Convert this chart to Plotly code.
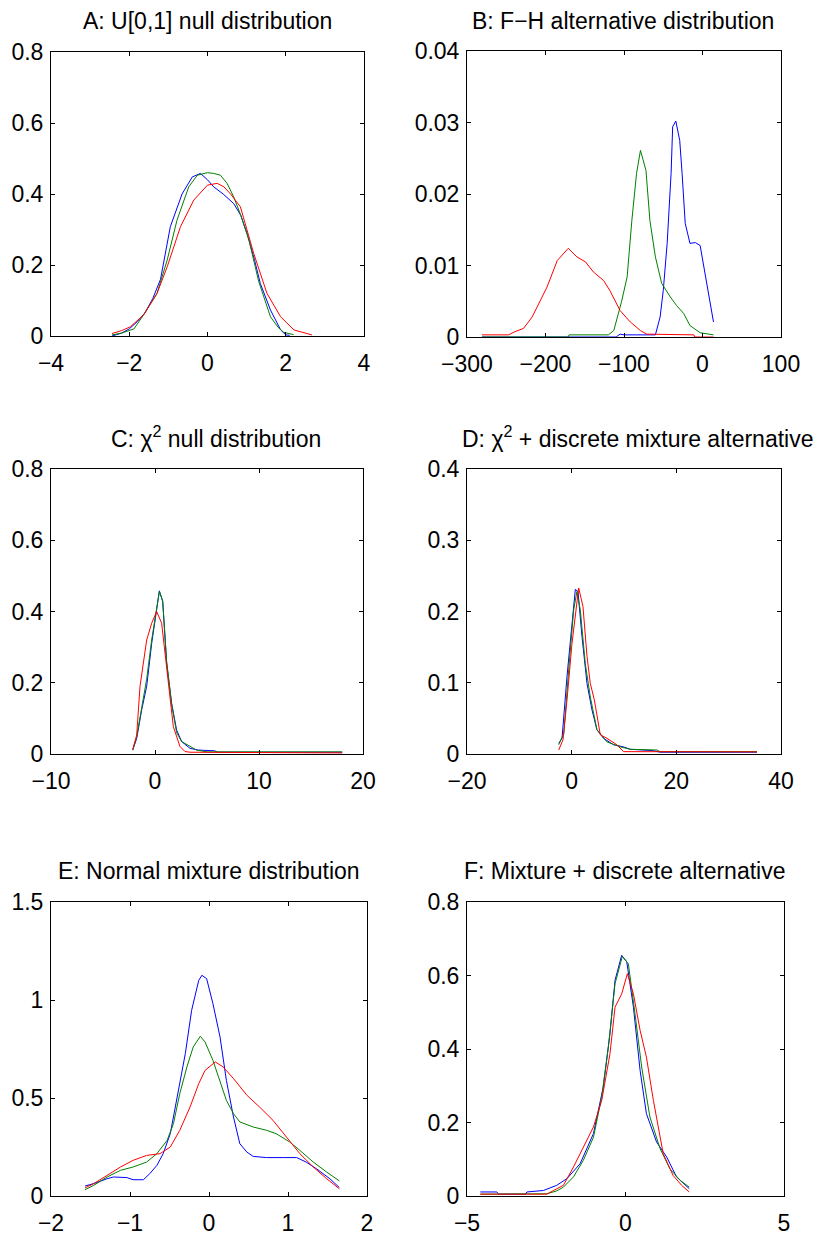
import plotly.graph_objects as go

# ---------------- data ----------------
# Panel A: U[0,1] null distribution
A_blue_x = [-2.44, -2.2, -2.0, -1.8, -1.6, -1.4, -1.2, -0.95, -0.65, -0.39, -0.18, 0.0, 0.16, 0.4, 0.67, 0.85, 1.01, 1.2, 1.35, 1.61, 1.87, 2.0, 2.1]
A_blue_y = [0.0, 0.008, 0.02, 0.04, 0.065, 0.105, 0.16, 0.308, 0.40, 0.448, 0.458, 0.44, 0.42, 0.40, 0.373, 0.34, 0.289, 0.215, 0.148, 0.073, 0.017, 0.003, 0.002]
A_green_x = [-2.44, -2.2, -1.88, -1.63, -1.29, -1.03, -0.78, -0.48, -0.26, 0.0, 0.16, 0.33, 0.5, 0.67, 0.85, 1.06, 1.31, 1.61, 1.8, 1.95, 2.2]
A_green_y = [0.003, 0.008, 0.02, 0.06, 0.12, 0.214, 0.326, 0.42, 0.453, 0.46, 0.458, 0.453, 0.43, 0.392, 0.34, 0.27, 0.153, 0.054, 0.025, 0.01, 0.004]
A_red_x = [-2.44, -2.2, -1.97, -1.63, -1.29, -1.03, -0.69, -0.35, 0.0, 0.25, 0.42, 0.59, 0.84, 1.0, 1.18, 1.52, 1.87, 2.21, 2.55, 2.67]
A_red_y = [0.007, 0.015, 0.026, 0.06, 0.12, 0.195, 0.308, 0.383, 0.425, 0.43, 0.42, 0.40, 0.364, 0.30, 0.233, 0.12, 0.054, 0.017, 0.0075, 0.003]

# Panel B: F-H alternative distribution
B_blue_x = [-281, -200, -110, -105, -100, -60, -54, -50, -45, -40, -38, -34, -29, -26, -22, -16, -9, -3, 1, 8, 14]
B_blue_y = [0.0, 0.0, 0.0, 0.0004, 0.0003, 0.0003, 0.0028, 0.0065, 0.0131, 0.0229, 0.0294, 0.0302, 0.0275, 0.0229, 0.0159, 0.0131, 0.0132, 0.0128, 0.0103, 0.0056, 0.0021]
B_green_x = [-281, -171, -170, -120, -113, -103, -96, -90, -84, -79, -72, -67, -60, -52, -41, -33, -24, -16, -3, 14]
B_green_y = [0.0, 0.0, 0.0003, 0.0003, 0.0009, 0.005, 0.0084, 0.0163, 0.0229, 0.0261, 0.0233, 0.0163, 0.0112, 0.0075, 0.0056, 0.0044, 0.0033, 0.0016, 0.0006, 0.0003]
B_red_x = [-281, -247, -240, -228, -217, -211, -198, -185, -171, -160, -149, -139, -126, -118, -105, -92, -79, -71, -11, -10, 14]
B_red_y = [0.0003, 0.0003, 0.0007, 0.0012, 0.0028, 0.0042, 0.007, 0.0107, 0.0124, 0.0112, 0.0105, 0.0091, 0.0079, 0.0065, 0.0037, 0.0021, 0.0009, 0.0004, 0.0003, 0.0, 0.0]

# Panel C: chi^2 null distribution
C_blue_x = [-2.14, -1.76, -1.28, -0.8, -0.32, 0.16, 0.42, 0.74, 1.12, 1.6, 2.08, 2.56, 3.36, 4.16, 5.75, 6.0, 18.0]
C_blue_y = [0.011, 0.044, 0.124, 0.19, 0.31, 0.405, 0.458, 0.428, 0.255, 0.142, 0.067, 0.035, 0.016, 0.011, 0.009, 0.005, 0.005]
C_green_x = [-2.14, -1.76, -1.28, -0.8, -0.32, 0.16, 0.42, 0.74, 1.12, 1.6, 2.08, 2.56, 3.0, 4.0, 5.0, 18.0]
C_green_y = [0.011, 0.048, 0.13, 0.21, 0.32, 0.41, 0.456, 0.43, 0.26, 0.14, 0.06, 0.035, 0.028, 0.011, 0.006, 0.006]
C_red_x = [-2.14, -1.76, -1.44, -0.8, -0.32, 0.16, 0.64, 1.12, 1.76, 2.4, 2.88, 3.36, 9.6, 9.7, 18.0]
C_red_y = [0.013, 0.053, 0.19, 0.32, 0.367, 0.40, 0.367, 0.245, 0.077, 0.021, 0.007, 0.005, 0.005, 0.003, 0.003]

# Panel D: chi^2 + discrete mixture alternative
D_blue_x = [-2.48, -1.84, -0.89, 0.06, 0.7, 1.21, 1.97, 2.93, 3.88, 4.83, 6.1, 8.0, 9.9, 11.2, 15.6, 16.9, 35.4]
D_blue_y = [0.015, 0.022, 0.109, 0.184, 0.231, 0.228, 0.165, 0.099, 0.062, 0.034, 0.022, 0.013, 0.010, 0.0066, 0.0047, 0.0025, 0.0025]
D_green_x = [-2.48, -1.5, -0.57, 0.38, 1.0, 1.65, 2.6, 3.56, 4.83, 6.74, 9.3, 11.2, 16.3, 16.9, 35.4]
D_green_y = [0.013, 0.029, 0.118, 0.202, 0.228, 0.202, 0.127, 0.08, 0.034, 0.017, 0.010, 0.0066, 0.0056, 0.0033, 0.0033]
D_red_x = [-2.48, -1.65, -0.89, 0.06, 1.34, 2.16, 2.93, 3.56, 4.33, 5.47, 6.74, 8.65, 9.9, 35.4]
D_red_y = [0.0056, 0.02, 0.076, 0.155, 0.233, 0.207, 0.137, 0.099, 0.076, 0.027, 0.022, 0.013, 0.0033, 0.003]

# Panel E: Normal mixture distribution
E_blue_x = [-1.57, -1.46, -1.29, -1.21, -1.04, -0.96, -0.83, -0.75, -0.66, -0.58, -0.49, -0.41, -0.3, -0.22, -0.13, -0.09, -0.03, 0.05, 0.14, 0.22, 0.31, 0.39, 0.48, 0.56, 0.73, 0.94, 1.11, 1.23, 1.36, 1.53, 1.65]
E_blue_y = [0.051, 0.063, 0.088, 0.097, 0.094, 0.083, 0.083, 0.114, 0.156, 0.216, 0.318, 0.488, 0.726, 0.947, 1.10, 1.126, 1.109, 0.981, 0.811, 0.59, 0.403, 0.267, 0.224, 0.202, 0.196, 0.196, 0.196, 0.173, 0.139, 0.088, 0.043]
E_green_x = [-1.57, -1.46, -1.29, -1.12, -0.96, -0.79, -0.66, -0.53, -0.45, -0.37, -0.28, -0.2, -0.11, -0.05, 0.05, 0.14, 0.22, 0.31, 0.39, 0.56, 0.73, 0.85, 1.02, 1.15, 1.32, 1.49, 1.65]
E_green_y = [0.032, 0.054, 0.097, 0.131, 0.148, 0.173, 0.216, 0.284, 0.369, 0.522, 0.658, 0.76, 0.815, 0.786, 0.692, 0.59, 0.488, 0.42, 0.378, 0.352, 0.335, 0.318, 0.276, 0.233, 0.173, 0.122, 0.077]
E_red_x = [-1.57, -1.46, -1.29, -1.12, -0.96, -0.79, -0.62, -0.49, -0.37, -0.24, -0.13, -0.05, 0.08, 0.18, 0.31, 0.48, 0.64, 0.81, 0.98, 1.15, 1.32, 1.49, 1.65]
E_red_y = [0.041, 0.063, 0.105, 0.148, 0.182, 0.207, 0.216, 0.25, 0.335, 0.454, 0.573, 0.641, 0.684, 0.658, 0.599, 0.514, 0.454, 0.386, 0.301, 0.216, 0.148, 0.088, 0.037]

# Panel F: Mixture + discrete alternative
F_blue_x = [-4.58, -4.06, -4.0, -3.16, -3.11, -2.59, -2.17, -1.85, -1.43, -1.01, -0.7, -0.49, -0.33, -0.12, 0.04, 0.25, 0.46, 0.66, 0.98, 1.3, 1.61, 2.01]
F_blue_y = [0.011, 0.011, 0.005, 0.005, 0.011, 0.015, 0.029, 0.047, 0.088, 0.17, 0.297, 0.442, 0.587, 0.655, 0.637, 0.514, 0.342, 0.224, 0.147, 0.106, 0.052, 0.02]
F_green_x = [-4.58, -2.48, -2.17, -1.96, -1.64, -1.33, -1.01, -0.75, -0.54, -0.33, -0.1, 0.09, 0.3, 0.51, 0.77, 1.09, 1.4, 1.72, 2.01]
F_green_y = [0.005, 0.006, 0.014, 0.024, 0.052, 0.097, 0.16, 0.27, 0.406, 0.578, 0.652, 0.632, 0.496, 0.351, 0.215, 0.129, 0.074, 0.043, 0.024]
F_red_x = [-4.58, -2.48, -2.27, -1.96, -1.64, -1.33, -1.01, -0.75, -0.49, -0.33, -0.12, 0.06, 0.25, 0.46, 0.66, 0.88, 1.19, 1.5, 1.77, 2.01]
F_red_y = [0.005, 0.005, 0.015, 0.029, 0.079, 0.133, 0.188, 0.26, 0.387, 0.514, 0.55, 0.605, 0.55, 0.451, 0.378, 0.26, 0.115, 0.056, 0.029, 0.011]

titles = [
    "A: U[0,1] null distribution",
    "B: F\u2212H alternative distribution",
    "C: \u03c7<sup>2</sup> null distribution",
    "D: \u03c7<sup>2</sup> + discrete mixture alternative",
    "E: Normal mixture distribution",
    "F: Mixture + discrete alternative",
]
x_ranges = [(-4, 4), (-300, 100), (-10, 20), (-20, 40), (-2, 2), (-5, 5)]
x_dticks = [2, 100, 10, 20, 1, 5]
y_ranges = [(0, 0.8), (0, 0.04), (0, 0.8), (0, 0.4), (0, 1.5), (0, 0.8)]
y_dticks = [0.2, 0.01, 0.2, 0.1, 0.5, 0.2]

panels = [
    (A_blue_x, A_blue_y, A_green_x, A_green_y, A_red_x, A_red_y),
    (B_blue_x, B_blue_y, B_green_x, B_green_y, B_red_x, B_red_y),
    (C_blue_x, C_blue_y, C_green_x, C_green_y, C_red_x, C_red_y),
    (D_blue_x, D_blue_y, D_green_x, D_green_y, D_red_x, D_red_y),
    (E_blue_x, E_blue_y, E_green_x, E_green_y, E_red_x, E_red_y),
    (F_blue_x, F_blue_y, F_green_x, F_green_y, F_red_x, F_red_y),
]

# ---------------- layout ----------------
W, H = 814, 1236
# pixel boxes of plot areas: (left, right, top, bottom)
boxes = [
    (51, 364, 52, 336), (467, 781, 51, 337),
    (51, 363, 469, 754), (467, 781, 469, 754),
    (51, 367, 902, 1196), (467, 784, 902, 1196),
]
title_cx = [207, 623, 216, 637, 209, 624]
title_base = [30, 30, 448, 448, 880, 880]

colors = ["#0000ff", "#008000", "#ff0000"]
FONT = "Liberation Sans, Arial, Helvetica, sans-serif"
TICK_SIZE = 23
TITLE_SIZE = 23

fig = go.Figure()
layout = dict(
    width=W, height=H, margin=dict(l=0, r=0, t=0, b=0, autoexpand=False),
    paper_bgcolor="white", plot_bgcolor="white", showlegend=False,
    font=dict(family=FONT, size=TICK_SIZE, color="black"),
)
annotations = []
for i, p in enumerate(panels):
    n = i + 1
    xa = "x" if n == 1 else f"x{n}"
    ya = "y" if n == 1 else f"y{n}"
    for k in range(3):
        fig.add_trace(go.Scatter(x=p[2 * k], y=p[2 * k + 1], mode="lines",
                                 line=dict(color=colors[k], width=1),
                                 xaxis=xa, yaxis=ya, hoverinfo="skip"))
    l, r, t, b = boxes[i]
    common = dict(showline=True, linecolor="black", linewidth=1, mirror="ticks",
                  ticks="inside", ticklen=4, tickcolor="black", showgrid=False,
                  zeroline=False, automargin=False,
                  tickfont=dict(family=FONT, size=TICK_SIZE, color="black"))
    layout["xaxis" if n == 1 else f"xaxis{n}"] = dict(
        domain=[l / W, r / W], range=list(x_ranges[i]), tick0=0, dtick=x_dticks[i],
        anchor=ya, ticklabelstandoff=6, **common)
    layout["yaxis" if n == 1 else f"yaxis{n}"] = dict(
        domain=[1 - b / H, 1 - t / H], range=list(y_ranges[i]), tick0=0, dtick=y_dticks[i],
        anchor=xa, ticklabelstandoff=2, **common)
    annotations.append(dict(
        text=titles[i], xref="paper", yref="paper", x=title_cx[i] / W,
        y=1 - (title_base[i] + 6) / H, xanchor="center", yanchor="bottom",
        showarrow=False, font=dict(family=FONT, size=TITLE_SIZE, color="black")))
layout["annotations"] = annotations
fig.update_layout(**layout)
fig.write_html("out.html", config={"displayModeBar": False},
               post_script="document.body.style.margin='0px';document.body.style.overflow='hidden';")
